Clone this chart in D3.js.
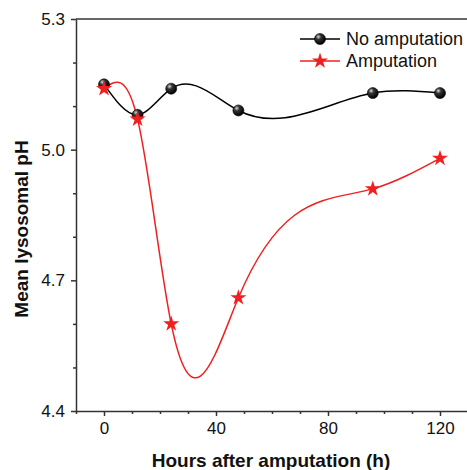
<!DOCTYPE html>
<html>
<head>
<meta charset="utf-8">
<script src="https://cdn.jsdelivr.net/npm/d3@7"></script>
<style>
  body { margin: 0; background: #fff; }
  svg { display: block; font-family: "Liberation Sans", Arial, sans-serif; }
</style>
</head>
<body>
<svg id="chart"></svg>
<script>
const hours = [0, 12, 24, 48, 96, 120];
const noAmputation = [5.15, 5.08, 5.14, 5.09, 5.13, 5.13];
const amputation = [5.14, 5.07, 4.60, 4.66, 4.91, 4.98];
const seriesNames = ["No amputation", "Amputation"];
const xTicks = [0, 40, 80, 120];
const yTicks = [4.4, 4.7, 5.0, 5.3];

const width = 467, height = 470;
const margin = { top: 19, right: -1, bottom: 59, left: 76 };

const svg = d3.select("#chart").attr("width", width).attr("height", height);

const x = d3.scaleLinear().domain([-10, 130]).range([margin.left, width - margin.right]);
const y = d3.scaleLinear().domain([4.4, 5.3]).range([height - margin.bottom, margin.top]);

const axisColor = "#333";

// natural cubic spline in x, drawn as exact bezier segments
function curveSplineX(context) {
  return {
    areaStart() {}, areaEnd() {},
    lineStart() { this.px = []; this.py = []; },
    point(a, b) { this.px.push(+a); this.py.push(+b); },
    lineEnd() {
      const X = this.px, Y = this.py, n = X.length;
      if (!n) return;
      context.moveTo(X[0], Y[0]);
      if (n < 3) { if (n === 2) context.lineTo(X[1], Y[1]); return; }
      const h = [];
      for (let i = 0; i < n - 1; i++) h.push(X[i + 1] - X[i]);
      // tridiagonal for second derivatives M, natural ends
      const M = new Array(n).fill(0);
      const a = [], b = [], c = [], r = [];
      for (let i = 1; i < n - 1; i++) {
        a.push(h[i - 1]); b.push(2 * (h[i - 1] + h[i])); c.push(h[i]);
        r.push(6 * ((Y[i + 1] - Y[i]) / h[i] - (Y[i] - Y[i - 1]) / h[i - 1]));
      }
      const m = b.length;
      for (let i = 1; i < m; i++) {
        const w = a[i] / b[i - 1];
        b[i] -= w * c[i - 1]; r[i] -= w * r[i - 1];
      }
      const sol = new Array(m);
      sol[m - 1] = r[m - 1] / b[m - 1];
      for (let i = m - 2; i >= 0; i--) sol[i] = (r[i] - c[i] * sol[i + 1]) / b[i];
      for (let i = 0; i < m; i++) M[i + 1] = sol[i];
      for (let i = 0; i < n - 1; i++) {
        const s = (Y[i + 1] - Y[i]) / h[i];
        const d0 = s - h[i] * (2 * M[i] + M[i + 1]) / 6;
        const d1 = s + h[i] * (M[i] + 2 * M[i + 1]) / 6;
        context.bezierCurveTo(
          X[i] + h[i] / 3, Y[i] + d0 * h[i] / 3,
          X[i + 1] - h[i] / 3, Y[i + 1] - d1 * h[i] / 3,
          X[i + 1], Y[i + 1]);
      }
    }
  };
}

// minor ticks
const xMinor = d3.range(-10, 131, 10).filter(v => !xTicks.includes(v));
const yMinor = d3.range(4.4, 5.31, 0.1).map(v => +v.toFixed(1)).filter(v => !yTicks.includes(v));

svg.append("g")
  .attr("transform", `translate(0,${y(4.4)})`)
  .call(d3.axisBottom(x).tickValues(xMinor).tickSize(3).tickFormat(""))
  .call(g => g.select(".domain").remove());
svg.append("g")
  .attr("transform", `translate(${x(-10)},0)`)
  .call(d3.axisLeft(y).tickValues(yMinor).tickSize(3).tickFormat(""))
  .call(g => g.select(".domain").remove());

const xAxis = svg.append("g")
  .attr("transform", `translate(0,${y(4.4)})`)
  .call(d3.axisBottom(x).tickValues(xTicks).tickSize(5).tickSizeOuter(0).tickPadding(6).tickFormat(d3.format("d")));
const yAxis = svg.append("g")
  .attr("transform", `translate(${x(-10)},0)`)
  .call(d3.axisLeft(y).tickValues(yTicks).tickSize(5).tickSizeOuter(0).tickPadding(6).tickFormat(d3.format(".1f")));

svg.selectAll("g line").attr("stroke", axisColor).attr("stroke-width", 1.5);
[xAxis, yAxis].forEach(g => {
  g.selectAll("path").attr("stroke", axisColor).attr("stroke-width", 1.5);
  g.selectAll("text").attr("font-size", 17).attr("fill", "#111")
    .attr("font-family", "Liberation Sans, Arial, sans-serif");
});

// top / right frame lines
svg.append("line")
  .attr("x1", x(-10)).attr("x2", x(130))
  .attr("y1", y(5.3)).attr("y2", y(5.3))
  .attr("stroke", axisColor).attr("stroke-width", 1.5);
svg.append("line")
  .attr("x1", x(130)).attr("x2", x(130))
  .attr("y1", y(5.3)).attr("y2", y(4.4))
  .attr("stroke", axisColor).attr("stroke-width", 1.5);

// axis titles
svg.append("text")
  .attr("x", 271).attr("y", 467)
  .attr("text-anchor", "middle")
  .attr("font-size", 19).attr("font-weight", "bold").attr("fill", "#111")
  .text("Hours after amputation (h)");
svg.append("text")
  .attr("transform", "translate(28,229) rotate(-90)")
  .attr("text-anchor", "middle")
  .attr("font-size", 19).attr("font-weight", "bold").attr("fill", "#111")
  .text("Mean lysosomal pH");

// sphere gradient
const defs = svg.append("defs");
const grad = defs.append("radialGradient").attr("id", "ball")
  .attr("cx", "35%").attr("cy", "30%").attr("r", "70%");
grad.append("stop").attr("offset", "0%").attr("stop-color", "#d8d8d8");
grad.append("stop").attr("offset", "35%").attr("stop-color", "#333");
grad.append("stop").attr("offset", "100%").attr("stop-color", "#000");

const line = d3.line()
  .x((d, i) => x(hours[i]))
  .y(d => y(d))
  .curve(curveSplineX);

const star = d3.symbol().type(d3.symbolStar).size(80);

function drawBall(g, cx, cy) {
  g.append("circle").attr("cx", cx).attr("cy", cy).attr("r", 5.5)
    .attr("fill", "url(#ball)").attr("stroke", "#000").attr("stroke-width", 0.6);
}
function drawStar(g, cx, cy) {
  g.append("path").attr("d", star()).attr("transform", `translate(${cx},${cy})`)
    .attr("fill", "#f02020");
}

svg.append("path").datum(noAmputation)
  .attr("d", line).attr("fill", "none").attr("stroke", "#000").attr("stroke-width", 1.5);
svg.append("path").datum(amputation)
  .attr("d", line).attr("fill", "none").attr("stroke", "#f02020").attr("stroke-width", 1.5);

const ballG = svg.append("g");
noAmputation.forEach((v, i) => drawBall(ballG, x(hours[i]), y(v)));
const starG = svg.append("g");
amputation.forEach((v, i) => drawStar(starG, x(hours[i]), y(v)));

// legend
const legend = svg.append("g");
const legendRows = [
  { name: seriesNames[0], color: "#000", draw: drawBall, yPos: 39 },
  { name: seriesNames[1], color: "#f02020", draw: drawStar, yPos: 61 }
];
legendRows.forEach(r => {
  legend.append("line").attr("x1", 300).attr("x2", 340)
    .attr("y1", r.yPos).attr("y2", r.yPos)
    .attr("stroke", r.color).attr("stroke-width", 1.5);
  r.draw(legend, 320, r.yPos);
  legend.append("text").attr("x", 346).attr("y", r.yPos + 6)
    .attr("font-size", 18).attr("fill", "#111").text(r.name);
});
</script>
</body>
</html>
